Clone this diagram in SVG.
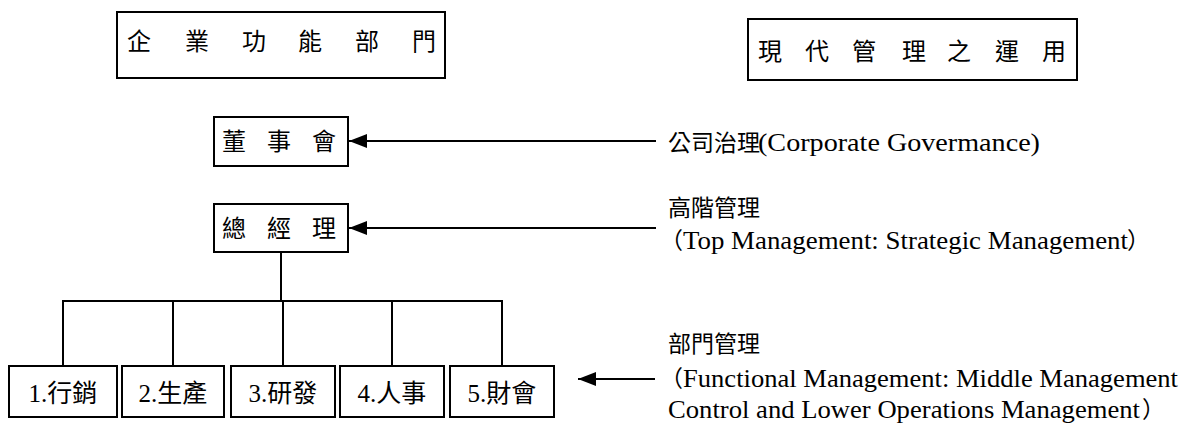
<svg xmlns="http://www.w3.org/2000/svg" width="1201" height="423" viewBox="0 0 1201 423">
<style>
.box{fill:#fff;stroke:#000;stroke-width:2}
.ln{stroke:#000;stroke-width:2;fill:none}
.t{font-family:"Liberation Serif","Noto Sans CJK TC",serif;fill:#000}
.c{font-family:"Liberation Serif","Noto Sans CJK TC",serif;font-size:24px;fill:#000}
.lb{font-size:25px}
.cj{font-size:23px}
.en{font-size:26px}
</style>
<defs>
<marker id="ah" markerWidth="18" markerHeight="14" refX="18" refY="7" orient="auto" markerUnits="userSpaceOnUse">
<path d="M0,0 L18,7 L0,14 Z" fill="#000"/>
</marker>
</defs>
<rect width="1201" height="423" fill="#fff"/>
<g id="header-left">
<rect class="box" x="117" y="12" width="328" height="66"/>
<text class="c" x="127 185 242 298 355 412" y="50">企業功能部門</text>
</g>
<g id="header-right">
<rect class="box" x="748" y="19" width="329" height="61"/>
<text class="c" x="758 805 852 902 947 995 1042" y="60">現代管理之運用</text>
</g>
<g id="board">
<rect class="box" x="214" y="117" width="134" height="49"/>
<text class="c" x="222 267 312" y="150">董事會</text>
</g>
<g id="gm">
<rect class="box" x="214" y="204" width="134" height="48"/>
<text class="c" x="222 267 312" y="237">總經理</text>
</g>
<g id="marketing">
<rect class="box" x="9" y="366" width="108" height="51"/>
<text class="t lb" x="63" y="402" text-anchor="middle">1.行銷</text>
</g>
<g id="production">
<rect class="box" x="122" y="366" width="102" height="51"/>
<text class="t lb" x="173" y="402" text-anchor="middle">2.生產</text>
</g>
<g id="rd">
<rect class="box" x="231" y="366" width="104" height="51"/>
<text class="t lb" x="283" y="402" text-anchor="middle">3.研發</text>
</g>
<g id="hr">
<rect class="box" x="340" y="366" width="104" height="51"/>
<text class="t lb" x="392" y="402" text-anchor="middle">4.人事</text>
</g>
<g id="finance">
<rect class="box" x="450" y="366" width="104" height="51"/>
<text class="t lb" x="502" y="402" text-anchor="middle">5.財會</text>
</g>
<g id="label-governance">
<text class="t cj" x="668" y="151">公司治理</text>
<text class="t en" x="758" y="151" textLength="282" lengthAdjust="spacingAndGlyphs">(Corporate Govermance)</text>
</g>
<g id="label-top">
<text class="t cj" x="668" y="216">高階管理</text>
<text class="t cj" x="660" y="249">（</text>
<text class="t en" x="683" y="249" textLength="445" lengthAdjust="spacingAndGlyphs">Top Management: Strategic Management</text>
<text class="t cj" x="1127" y="249">）</text>
</g>
<g id="label-functional">
<text class="t cj" x="668" y="352">部門管理</text>
<text class="t cj" x="660" y="387">（</text>
<text class="t en" x="683" y="387" textLength="495" lengthAdjust="spacingAndGlyphs">Functional Management: Middle Management</text>
<text class="t en" x="668" y="418" textLength="472" lengthAdjust="spacingAndGlyphs">Control and Lower Operations Management</text>
<text class="t cj" x="1142" y="418">）</text>
</g>
<g id="connectors">
<line class="ln" x1="656" y1="141" x2="349" y2="141" marker-end="url(#ah)"/>
<line class="ln" x1="656" y1="228" x2="349" y2="228" marker-end="url(#ah)"/>
<line class="ln" x1="655" y1="379" x2="578" y2="379" marker-end="url(#ah)"/>
<line class="ln" x1="281" y1="252" x2="281" y2="301"/>
<line class="ln" x1="62" y1="301" x2="503" y2="301"/>
<line class="ln" x1="63" y1="301" x2="63" y2="366"/>
<line class="ln" x1="173" y1="301" x2="173" y2="366"/>
<line class="ln" x1="283" y1="301" x2="283" y2="366"/>
<line class="ln" x1="392" y1="301" x2="392" y2="366"/>
<line class="ln" x1="502" y1="301" x2="502" y2="366"/>
</g>
</svg>
